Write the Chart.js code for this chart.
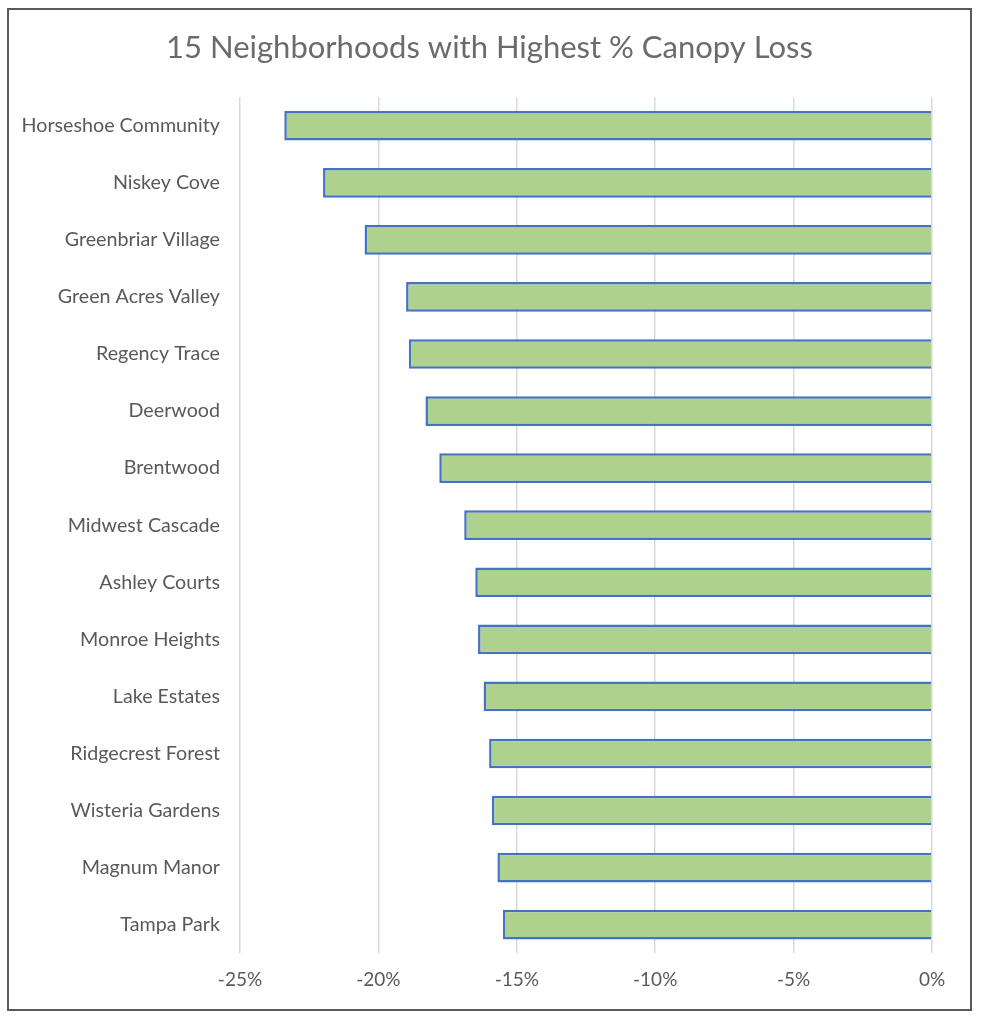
<!DOCTYPE html>
<html>
<head>
<meta charset="utf-8">
<script src="https://cdn.jsdelivr.net/npm/chart.js@4/dist/chart.umd.min.js"></script>
<style>
  html, body { margin: 0; padding: 0; background: #fff; }
  #frame {
    position: absolute; left: 7px; top: 8px;
    width: 961px; height: 999px;
    border: 2px solid #595959;
  }
  #frame canvas { display: block; }
</style>
</head>
<body>
<div id="frame"><canvas id="chart0"></canvas></div>
<script>
// neighborhoods, top to bottom
const neighborhoods = [
  "Horseshoe Community", "Niskey Cove", "Greenbriar Village", "Green Acres Valley",
  "Regency Trace", "Deerwood", "Brentwood", "Midwest Cascade", "Ashley Courts",
  "Monroe Heights", "Lake Estates", "Ridgecrest Forest", "Wisteria Gardens",
  "Magnum Manor", "Tampa Park"
];
// % canopy change
const canopy_loss = [
  -23.4, -22.0, -20.5, -19.0, -18.9, -18.3, -17.8, -16.9, -16.5,
  -16.4, -16.2, -16.0, -15.9, -15.7, -15.5
];
const chart_title = "15 Neighborhoods with Highest % Canopy Loss";

const text_colour = "#595959";
const font_family = "Lato, 'Open Sans', sans-serif";

const ctx = document.getElementById("chart0");
const myChart = new Chart(ctx, {
  type: "bar",
  data: {
    labels: neighborhoods,
    datasets: [{
      data: canopy_loss,
      backgroundColor: "#AED18E",
      borderColor: "#4472C4",
      borderWidth: 2.5,
      borderSkipped: "start",
      barPercentage: 1,
      categoryPercentage: 0.52,
    }],
  },
  options: {
    indexAxis: "y",
    responsive: true,
    maintainAspectRatio: false,
    animation: false,
    layout: { padding: { left: 0, right: 0, top: 0, bottom: 3 } },
    plugins: {
      legend: { display: false },
      tooltip: { enabled: false },
      title: {
        display: true,
        text: chart_title,
        color: "#6b6b6b",
        font: { family: font_family, size: 31, weight: "normal" },
        padding: { top: 19, bottom: 31 },
      },
    },
    scales: {
      x: {
        min: -25,
        max: 0,
        ticks: {
          stepSize: 5,
          color: text_colour,
          font: { family: font_family, size: 19 },
          padding: 15,
          callback: (v) => v + "%",
        },
        grid: { color: "#d9d9d9", lineWidth: 1.5, drawTicks: false },
        border: { display: false },
      },
      y: {
        ticks: {
          color: text_colour,
          font: { family: font_family, size: 19.7 },
          padding: 20,
        },
        grid: { display: false, drawTicks: false },
        border: { display: false },
        afterFit: (scale) => { scale.width = 231; },
      },
      // empty right-hand spacer so the plot ends where the reference does
      spacer: {
        type: "linear",
        position: "right",
        ticks: { display: false },
        grid: { display: false, drawTicks: false },
        border: { display: false },
        afterFit: (scale) => { scale.width = 38; },
      },
    },
  },
});
</script>
</body>
</html>
